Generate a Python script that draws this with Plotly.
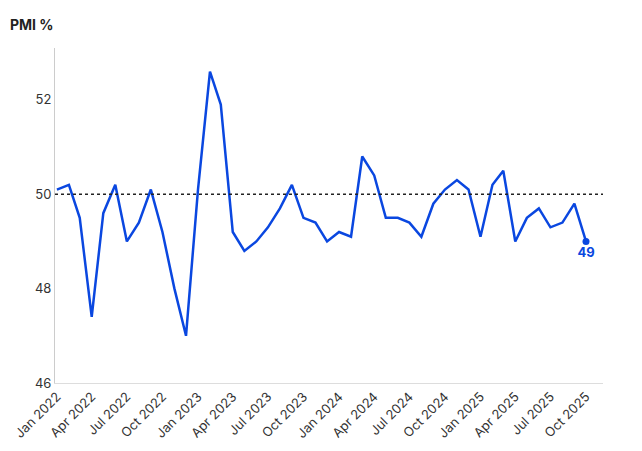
import plotly.graph_objects as go
import pandas as pd

dates = pd.date_range("2022-01-01", "2025-10-01", freq="MS")
pmi = [50.1, 50.2, 49.5, 47.4, 49.6, 50.2, 49.0, 49.4, 50.1, 49.2, 48.0, 47.0,
       50.1, 52.6, 51.9, 49.2, 48.8, 49.0, 49.3, 49.7, 50.2, 49.5, 49.4, 49.0,
       49.2, 49.1, 50.8, 50.4, 49.5, 49.5, 49.4, 49.1, 49.8, 50.1, 50.3, 50.1,
       49.1, 50.2, 50.5, 49.0, 49.5, 49.7, 49.3, 49.4, 49.8, 49.0]
tick_vals = pd.date_range("2022-01-01", "2025-10-01", freq="3MS")
tick_text = [d.strftime("%b %Y") for d in tick_vals]
blue = "#0a47e0"

fig = go.Figure()
fig.add_trace(go.Scatter(x=dates, y=pmi, mode="lines", line=dict(color=blue, width=2.5),
                         hoverinfo="x+y"))
fig.add_trace(go.Scatter(x=[dates[-1]], y=[pmi[-1]], mode="markers+text",
                         marker=dict(color=blue, size=7), text=["<b>49</b>"],
                         textposition="bottom center", textfont=dict(color=blue, size=13)))
fig.add_hline(y=50, line=dict(color="#222", width=1.5, dash="dot"))
fig.update_layout(
    width=642, height=451, showlegend=False, plot_bgcolor="white", paper_bgcolor="white",
    margin=dict(l=47, r=47, t=40, b=76, autoexpand=False),
    font=dict(family="Inter, Roboto, sans-serif", size=13, color="#333"),
    annotations=[dict(text="<b>PMI %</b>", xref="paper", yref="paper", x=-0.085, y=1.1,
                      xanchor="left", yanchor="top", showarrow=False,
                      font=dict(size=14, color="#222"))],
)
fig.update_xaxes(tickvals=tick_vals, ticktext=tick_text, tickangle=-45, showgrid=False,
                 automargin=False, showline=True, linecolor="#ddd",
                 range=[dates[0] - pd.Timedelta(days=5), dates[-1] + pd.Timedelta(days=44)])
fig.update_yaxes(range=[46, 53.1], tickvals=[46, 48, 50, 52], showgrid=False, automargin=False,
                 showline=True, linecolor="#ccc", zeroline=False)
fig.write_html("out.html")
